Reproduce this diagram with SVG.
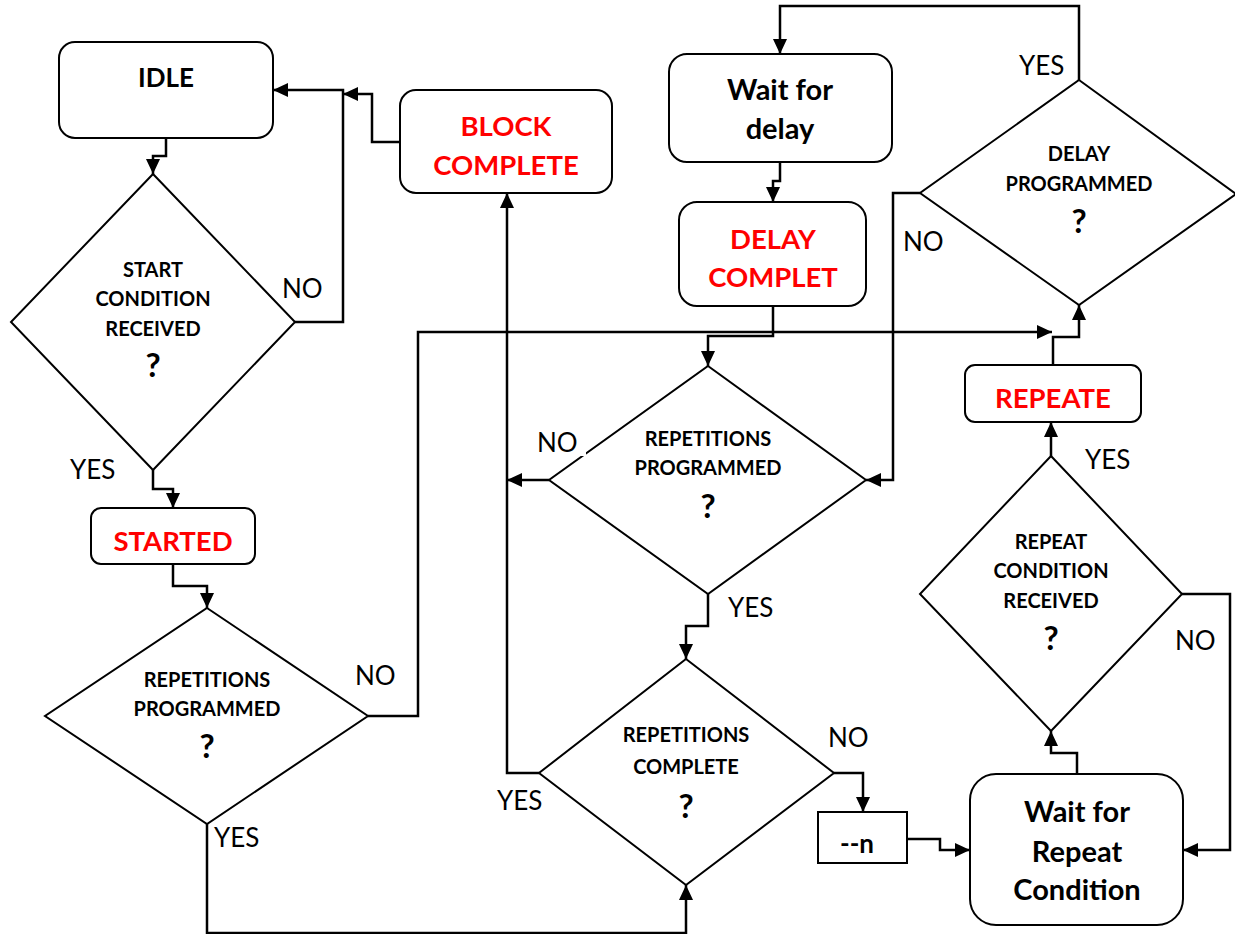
<svg xmlns="http://www.w3.org/2000/svg" width="1235" height="934" viewBox="0 0 1235 934">
<style>
.box{fill:#fff;stroke:#000;stroke-width:2}
.dia{fill:#fff;stroke:#000;stroke-width:2}
.ln{fill:none;stroke:#000;stroke-width:2.5;marker-end:url(#ah)}
.t{font-family:Lato,"Liberation Sans",sans-serif;font-weight:bold;text-anchor:middle}
.dt{font-size:20px}
.q{font-size:33px}
.nt{font-size:26px}
.bt{font-size:29px}
.red{fill:#ff0000;font-size:27.5px}
.lb{font-family:Lato,"Liberation Sans",sans-serif;font-size:26px;fill:#000}
</style>
<defs>
<marker id="ah" markerUnits="userSpaceOnUse" markerWidth="16" markerHeight="14" refX="15" refY="7" orient="auto">
<path d="M0,0 L15,7 L0,14 Z" fill="#000"/>
</marker>
</defs>
<g id="connectors">
<path class="ln" d="M166,138 V156 H153 V174"/>
<path class="ln" d="M295,322 H343 V90 H273"/>
<path class="ln" d="M400,142 H372 V94 H343"/>
<path class="ln" d="M153,470 V489 H173 V508"/>
<path class="ln" d="M173,564 V586 H207 V608"/>
<path class="ln" d="M368,716 H418 V332 H1052"/>
<path class="ln" d="M207,824 V933 H686 V885"/>
<path class="ln" d="M1079,80 V6 H780 V54"/>
<path class="ln" d="M780,162 V181 H773 V202"/>
<path class="ln" d="M773,306 V336 H708 V366"/>
<path class="ln" d="M549,480 H507"/>
<path class="ln" d="M539,773 H507 V193"/>
<path class="ln" d="M708,594 V626 H686 V659"/>
<path class="ln" d="M834,773 H863 V812"/>
<path class="ln" d="M907,839 H940 V850 H970"/>
<path class="ln" d="M1077,774 V753 H1051 V731"/>
<path class="ln" d="M1182,594 H1230 V850 H1183"/>
<path class="ln" d="M1051,456 V422"/>
<path class="ln" d="M1053,365 V337 H1079 V305"/>
<path class="ln" d="M920,193 H893 V480 H866"/>
</g>
<g id="idle">
<rect class="box" x="59" y="42" width="214" height="96" rx="16"/>
<text class="t nt" x="166" y="87">IDLE</text>
</g>
<g id="start-cond">
<polygon class="dia" points="153,174 295,322 153,470 11,322"/>
<text class="t dt" x="153" y="277">START</text>
<text class="t dt" x="153" y="306">CONDITION</text>
<text class="t dt" x="153" y="336">RECEIVED</text>
<text class="t q" x="153" y="377">?</text>
</g>
<g id="block-complete">
<rect class="box" x="400" y="90" width="212" height="103" rx="16"/>
<text class="t red" x="506" y="136">BLOCK</text>
<text class="t red" x="506" y="175">COMPLETE</text>
</g>
<g id="started">
<rect class="box" x="91" y="508" width="164" height="56" rx="10"/>
<text class="t red" x="173" y="551">STARTED</text>
</g>
<g id="rep-prog-1">
<polygon class="dia" points="207,608 368,716 207,824 45,716"/>
<text class="t dt" x="207" y="687">REPETITIONS</text>
<text class="t dt" x="207" y="716">PROGRAMMED</text>
<text class="t q" x="207" y="758">?</text>
</g>
<g id="wait-delay">
<rect class="box" x="669" y="54" width="223" height="108" rx="18"/>
<text class="t bt" x="780" y="100">Wait for</text>
<text class="t bt" x="780" y="139">delay</text>
</g>
<g id="delay-complete">
<rect class="box" x="679" y="202" width="187" height="104" rx="18"/>
<text class="t red" x="773" y="249">DELAY</text>
<text class="t red" x="773" y="287">COMPLET</text>
</g>
<g id="rep-prog-2">
<polygon class="dia" points="708,366 866,480 708,594 549,480"/>
<text class="t dt" x="708" y="446">REPETITIONS</text>
<text class="t dt" x="708" y="475">PROGRAMMED</text>
<text class="t q" x="708" y="518">?</text>
</g>
<g id="rep-complete">
<polygon class="dia" points="686,659 834,773 686,885 539,773"/>
<text class="t dt" x="686" y="742">REPETITIONS</text>
<text class="t dt" x="686" y="774">COMPLETE</text>
<text class="t q" x="686" y="818">?</text>
</g>
<g id="dec-n">
<rect class="box" x="818" y="812" width="89" height="51"/>
<text class="t nt" x="857" y="853">--n</text>
</g>
<g id="wait-repeat">
<rect class="box" x="970" y="774" width="213" height="151" rx="26"/>
<text class="t bt" x="1077" y="822">Wait for</text>
<text class="t bt" x="1077" y="862">Repeat</text>
<text class="t bt" x="1077" y="900">Condition</text>
</g>
<g id="repeat-cond">
<polygon class="dia" points="1051,456 1182,594 1051,731 920,594"/>
<text class="t dt" x="1051" y="549">REPEAT</text>
<text class="t dt" x="1051" y="578">CONDITION</text>
<text class="t dt" x="1051" y="608">RECEIVED</text>
<text class="t q" x="1051" y="650">?</text>
</g>
<g id="repeate">
<rect class="box" x="965" y="365" width="176" height="57" rx="10"/>
<text class="t red" x="1053" y="408">REPEATE</text>
</g>
<g id="delay-prog">
<polygon class="dia" points="1079,80 1236,194 1079,305 920,193"/>
<text class="t dt" x="1079" y="161">DELAY</text>
<text class="t dt" x="1079" y="191">PROGRAMMED</text>
<text class="t q" x="1079" y="233">?</text>
</g>
<g id="labels">
<text class="lb" x="282" y="298">NO</text>
<text class="lb" x="70" y="479">YES</text>
<text class="lb" x="355" y="685">NO</text>
<text class="lb" x="214" y="847">YES</text>
<text class="lb" x="1019" y="75">YES</text>
<text class="lb" x="903" y="251">NO</text>
<rect x="536" y="428" width="50" height="28" fill="#fff"/>
<text class="lb" x="537" y="452">NO</text>
<text class="lb" x="728" y="617">YES</text>
<text class="lb" x="497" y="810">YES</text>
<text class="lb" x="828" y="747">NO</text>
<text class="lb" x="1085" y="469">YES</text>
<text class="lb" x="1175" y="650">NO</text>
</g>
</svg>
